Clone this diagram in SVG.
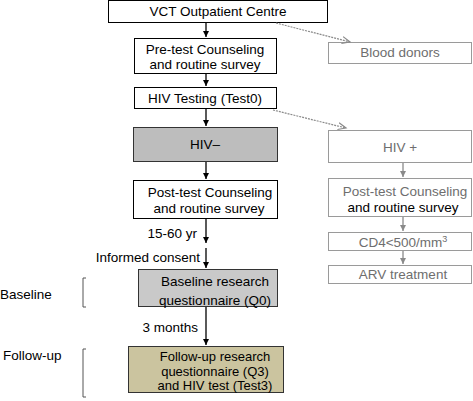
<svg xmlns="http://www.w3.org/2000/svg" width="473" height="401" viewBox="0 0 473 401">
<style>
text{font-family:"Liberation Sans",Arial,sans-serif;font-size:13.5px;fill:#000}
.c{text-anchor:middle}
.e{text-anchor:end}
.g{fill:#6e6e6e}
.s{font-size:13px}
.box{fill:#fff;stroke:#000;stroke-width:1}
.gbox{fill:#fff;stroke:#9a9a9a;stroke-width:1}
.ln{stroke:#000;stroke-width:1.3;fill:none}
.gln{stroke:#8a8a8a;stroke-width:1.3;fill:none}
.dot{stroke:#8a8a8a;stroke-width:1.2;stroke-dasharray:2 1;fill:none}
.br{stroke:#555;stroke-width:1;fill:none}
</style>
<defs>
<marker id="ah" markerWidth="8" markerHeight="8" refX="6" refY="4" orient="auto" markerUnits="userSpaceOnUse">
<path d="M0,1 L6,4 L0,7 Z" fill="#000"/>
</marker>
<marker id="gah" markerWidth="8" markerHeight="8" refX="6" refY="4" orient="auto" markerUnits="userSpaceOnUse">
<path d="M0,1 L6,4 L0,7 Z" fill="#8a8a8a"/>
</marker>
<marker id="oah" markerWidth="10" markerHeight="10" refX="8" refY="5" orient="auto" markerUnits="userSpaceOnUse">
<path d="M0,1.5 L8,5 L0,8.5" stroke="#8a8a8a" stroke-width="1.2" fill="none"/>
</marker>
</defs>

<g id="vct"><rect class="box" x="108.5" y="0.5" width="219" height="22"/><text class="c" x="218" y="16">VCT Outpatient Centre</text></g>
<g id="pretest"><rect class="box" x="134.5" y="38.5" width="142" height="35"/><text class="c" x="205" y="54">Pre-test Counseling</text><text class="c" x="205" y="69">and routine survey</text></g>
<g id="hivtest"><rect class="box" x="134.5" y="87.5" width="142" height="21"/><text class="c" x="205" y="102.5">HIV  Testing (Test0)</text></g>
<g id="hivneg"><rect x="133.5" y="127.5" width="144" height="34" fill="#bdbdbd" stroke="#333"/><text class="c" x="205" y="149">HIV–</text></g>
<g id="posttest"><rect class="box" x="133.5" y="180.5" width="144" height="38"/><text class="c" x="210" y="197">Post-test Counseling</text><text class="c" x="209" y="213">and routine survey</text></g>
<g id="baseline"><rect x="138.5" y="269.5" width="139" height="37" fill="#c9c9c9" stroke="#333"/><text class="c" x="215" y="286">Baseline research</text><text class="c" x="215" y="305">questionnaire (Q0)</text></g>
<g id="followup"><rect x="128.5" y="346.5" width="155" height="46" fill="#cbc49f" stroke="#333"/><text class="c s" x="215" y="361">Follow-up research</text><text class="c s" x="215" y="375.5">questionnaire (Q3)</text><text class="c s" x="215" y="390">and HIV test (Test3)</text></g>

<g id="blood"><rect class="gbox" x="328.5" y="42.5" width="143" height="21"/><text class="c g" x="400" y="57">Blood donors</text></g>
<g id="hivpos"><rect class="gbox" x="328.5" y="130.5" width="143" height="32"/><text class="c g" x="400" y="152">HIV +</text></g>
<g id="posttest2"><rect class="gbox" x="328.5" y="178.5" width="143" height="38"/><text class="c g" x="405" y="196">Post-test Counseling</text><text class="c" x="403" y="212">and routine survey</text></g>
<g id="cd4"><rect class="gbox" x="328.5" y="232.5" width="143" height="18"/><text class="c g" x="403" y="247">CD4&lt;500/mm<tspan font-size="9" dy="-5">3</tspan></text></g>
<g id="arv"><rect class="gbox" x="328.5" y="265.5" width="143" height="18"/><text class="c g" x="403" y="279">ARV treatment</text></g>

<g id="labels">
<text class="e" x="197" y="238">15-60 yr</text>
<text class="e" x="200" y="262">Informed consent</text>
<text class="e" x="198" y="332">3 months</text>
<text x="0" y="299">Baseline</text>
<text x="3" y="360">Follow-up</text>
<path class="br" d="M86,278 H83 V307 H86"/>
<path class="br" d="M86,349 H83 V397 H86"/>
</g>

<g id="connectors">
<path class="ln" d="M206,23 V37" marker-end="url(#ah)"/>
<path class="ln" d="M206,74 V86" marker-end="url(#ah)"/>
<path class="ln" d="M206,109 V126" marker-end="url(#ah)"/>
<path class="ln" d="M206,162 V179" marker-end="url(#ah)"/>
<path class="ln" d="M206,219 V243" marker-end="url(#ah)"/>
<path class="ln" d="M206,248 V268" marker-end="url(#ah)"/>
<path class="ln" d="M206,307 V345" marker-end="url(#ah)"/>
<path class="gln" d="M403,163 V177" marker-end="url(#gah)"/>
<path class="gln" d="M403,217 V231" marker-end="url(#gah)"/>
<path class="gln" d="M403,251 V264" marker-end="url(#gah)"/>
<path class="dot" d="M276,23 L350,42" marker-end="url(#oah)"/>
<path class="dot" d="M273,110 L346,128" marker-end="url(#oah)"/>
</g>
</svg>
